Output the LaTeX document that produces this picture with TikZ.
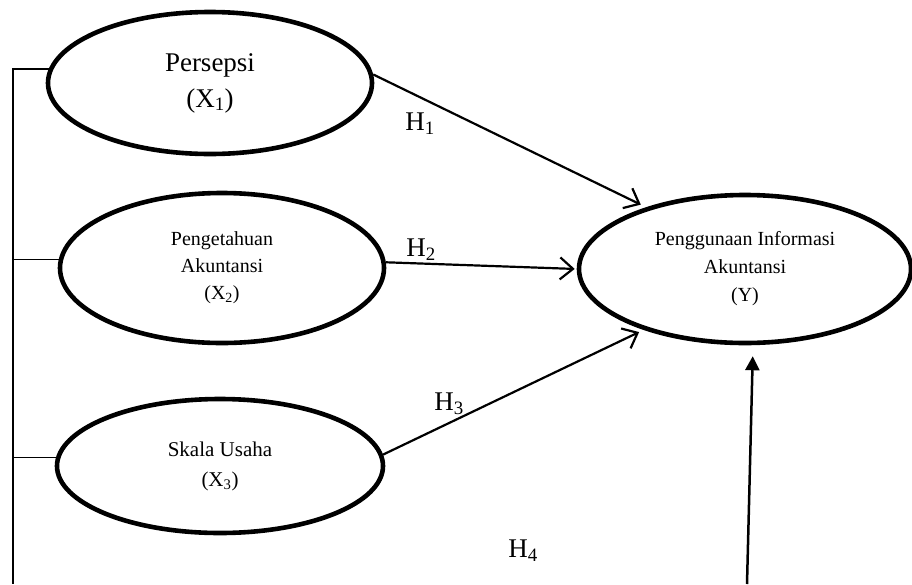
\documentclass[tikz,border=0pt]{standalone}
\usepackage{fontspec}
\setmainfont{Liberation Serif}
\usetikzlibrary{shapes.geometric,arrows.meta}
\begin{document}
\begin{tikzpicture}[x=1pt,y=-1pt,
  var/.style={ellipse,draw,line width=4.6pt,inner sep=0pt,align=center},
  path/.style={line width=2.2pt,-{Straight Barb[length=13pt,width=22pt,line width=2.2pt]}},
  lab/.style={font=\fontsize{27}{30}\selectfont,inner sep=0pt},
  frame/.style={line width=1.6pt}]
\useasboundingbox (0,0) rectangle (912,584);
\node[var,minimum width=324pt,minimum height=142pt,font=\fontsize{27}{36}\selectfont] (x1) at (210,83) {Persepsi\\(X\textsubscript{1})};
\node[var,minimum width=324pt,minimum height=150pt,font=\fontsize{20}{27}\selectfont] (x2) at (222,268) {Pengetahuan\\Akuntansi\\(X\textsubscript{2})};
\node[var,minimum width=326pt,minimum height=134pt,font=\fontsize{21}{30}\selectfont] (x3) at (220,466) {Skala Usaha\\(X\textsubscript{3})};
\node[var,minimum width=332pt,minimum height=148pt,font=\fontsize{20}{28}\selectfont] (y) at (745,269) {Penggunaan Informasi\\Akuntansi\\(Y)};
\coordinate (lb) at (13,584);
\coordinate (h4s) at (747,584);
\draw[frame] (x1.175) -| (lb);
\draw[frame] (x2.177) -- (x2.177 -| lb);
\draw[frame] (x3.177) -- (x3.177 -| lb);
\draw[path,shorten >=6pt] (x1.3) -- (y.148);
\draw[path,shorten >=2pt] (x2.2) -- (y.west);
\draw[path,shorten >=5pt] (x3.4) -- (y.211.7);
\draw[line width=2.5pt,-{Triangle[length=14pt,width=14pt]},shorten >=11pt] (h4s) -- (y.-84);
\node[lab] (h1) at (420,124) {H\textsubscript{1}};
\node[lab] (h2) at (421,250) {H\textsubscript{2}};
\node[lab] (h3) at (449,404) {H\textsubscript{3}};
\node[lab] (h4) at (523,551) {H\textsubscript{4}};
\end{tikzpicture}
\end{document}
